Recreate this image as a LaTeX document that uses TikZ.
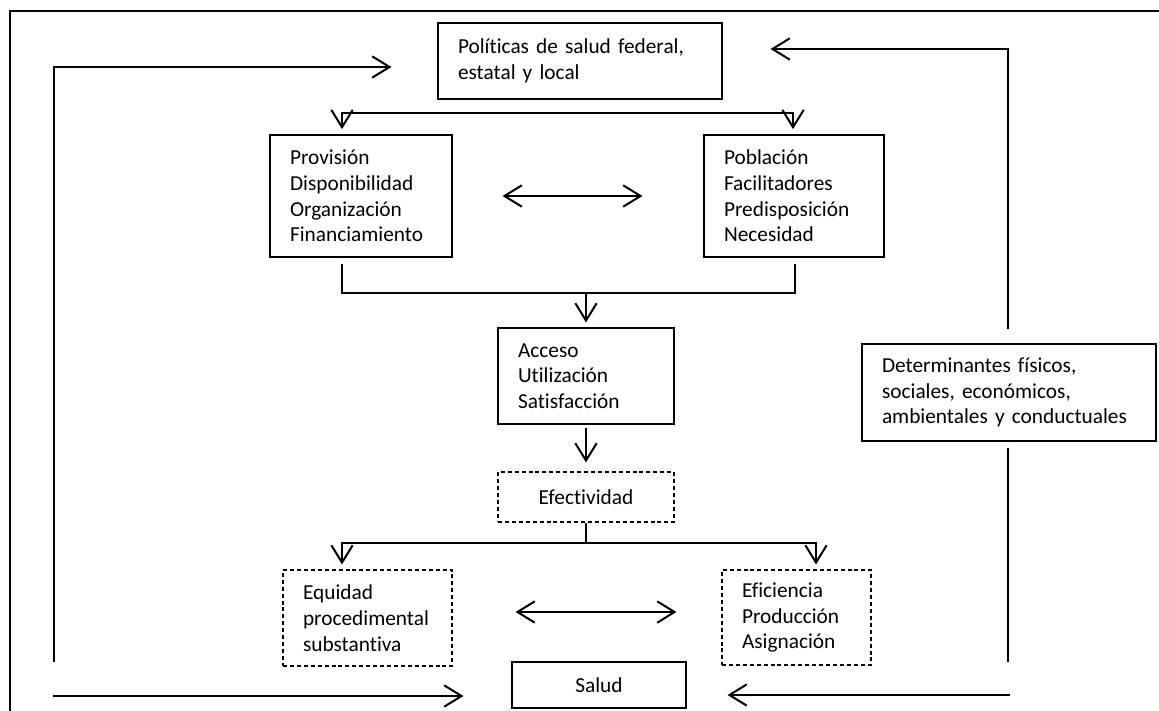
\documentclass[tikz,border=0pt]{standalone}
\usepackage{fontspec}
\setmainfont{Carlito}[Ligatures=NoCommon]
\usetikzlibrary{arrows.meta}
\begin{document}
\begin{tikzpicture}[x=0.75pt,y=-0.75pt,
  font=\fontsize{16}{19.3}\selectfont,
  box/.style={draw,line width=0.8pt,inner xsep=15pt,inner ysep=0pt,align=left},
  dbox/.style={box,dash pattern=on 3pt off 2.2pt},
  cbox/.style={draw,line width=0.8pt,inner sep=0pt,align=center},
  conn/.style={line width=1.5pt},
  arr/.style={conn,-{Straight Barb[length=13pt,width=16pt,line width=1.5pt]}},
  darr/.style={conn,{Straight Barb[length=13pt,width=16pt,line width=1.5pt]}-{Straight Barb[length=13pt,width=16pt,line width=1.5pt]}}]
\useasboundingbox (0,0) rectangle (1159,710);
% frame
\draw[line width=0.8pt] (10,712) -- (10,11) -- (1160,11);
% nodes
\node[box,text width=183pt,minimum height=57pt] (pol) at (580,61) {Políticas de salud federal,\\estatal y local};
\node[box,text width=106.5pt,minimum height=91.5pt] (prov) at (361,196) {Provisión\\Disponibilidad\\Organización\\Financiamiento};
\node[box,text width=105pt,minimum height=91.5pt] (pob) at (794,196) {Población\\Facilitadores\\Predisposición\\Necesidad};
\node[box,text width=102pt,minimum height=72pt] (acc) at (586,376) {Acceso\\Utilización\\Satisfacción};
\node[cbox,dash pattern=on 3pt off 2.2pt,minimum width=132pt,minimum height=37.5pt] (efe) at (586,497) {Efectividad};
\node[dbox,text width=96.75pt,minimum height=72pt] (equ) at (367.5,618) {Equidad\\procedimental\\substantiva};
\node[dbox,text width=81.75pt,minimum height=71.25pt] (efi) at (796.5,617.5) {Eficiencia\\Producción\\Asignación};
\node[cbox,minimum width=130.5pt,minimum height=34.5pt] (sal) at (599,685) {Salud};
\node[box,text width=190.5pt,minimum height=72.75pt] (det) at (1009,392.5) {Determinantes físicos,\\sociales, económicos,\\ambientales y conductuales};
% coordinates
\coordinate (sL) at (342,113);
\coordinate (sR) at (793,113);
\coordinate (jL) at (342,293);
\coordinate (jR) at (795,293);
\coordinate (jM) at (586,293);
\coordinate (eM) at (586,543);
\coordinate (eL) at (342,543);
\coordinate (eR) at (816,543);
\coordinate (lTop) at (54,67);
\coordinate (lBot) at (54,662);
\coordinate (rTop) at (1008,49);
\coordinate (rBot) at (1008,662);
\coordinate (bL) at (53,696);
\coordinate (bR) at (1010,695);
% split from policies
\draw[darr,shorten <=4pt,shorten >=4pt] (sL |- prov.north) -- (sL) -- (sR) -- (sR |- pob.north);
% double arrow top
\draw[darr,shorten <=37.5pt,shorten >=45.75pt] (prov.east) -- (pob.west);
% join to access
\draw[conn] ([yshift=-4.5pt]jL |- prov.south) -- (jL) -- (jR) -- ([yshift=-4.5pt]jR |- pob.south);
\draw[arr,shorten >=3.75pt] (jM) -- (acc.north);
% access to effectiveness
\draw[arr,shorten <=2.25pt,shorten >=6.75pt] (acc.south) -- (efe.north);
% split from effectiveness
\draw[conn] (efe.south) -- (eM);
\draw[darr,shorten <=3.75pt,shorten >=3.75pt] (eL |- equ.north) -- (eL) -- (eR) -- (eR |- efi.north);
% double arrow bottom
\draw[darr,shorten <=47.25pt,shorten >=33.75pt] (equ.east |- 0,612) -- (efi.west |- 0,612);
% left loop
\draw[arr,shorten >=34.5pt] (lBot) -- (lTop) -- (lTop -| pol.west);
% right loop
\draw[arr,shorten <=10.5pt,shorten >=36pt] (det.north -| rTop) -- (rTop) -- (rTop -| pol.east);
\draw[conn,shorten <=4.5pt] (det.south -| rBot) -- (rBot);
% bottom arrows to health
\draw[arr,shorten >=36pt] (bL) -- (bL -| sal.west);
\draw[arr,shorten >=30.75pt] (bR) -- (bR -| sal.east);
\end{tikzpicture}
\end{document}
